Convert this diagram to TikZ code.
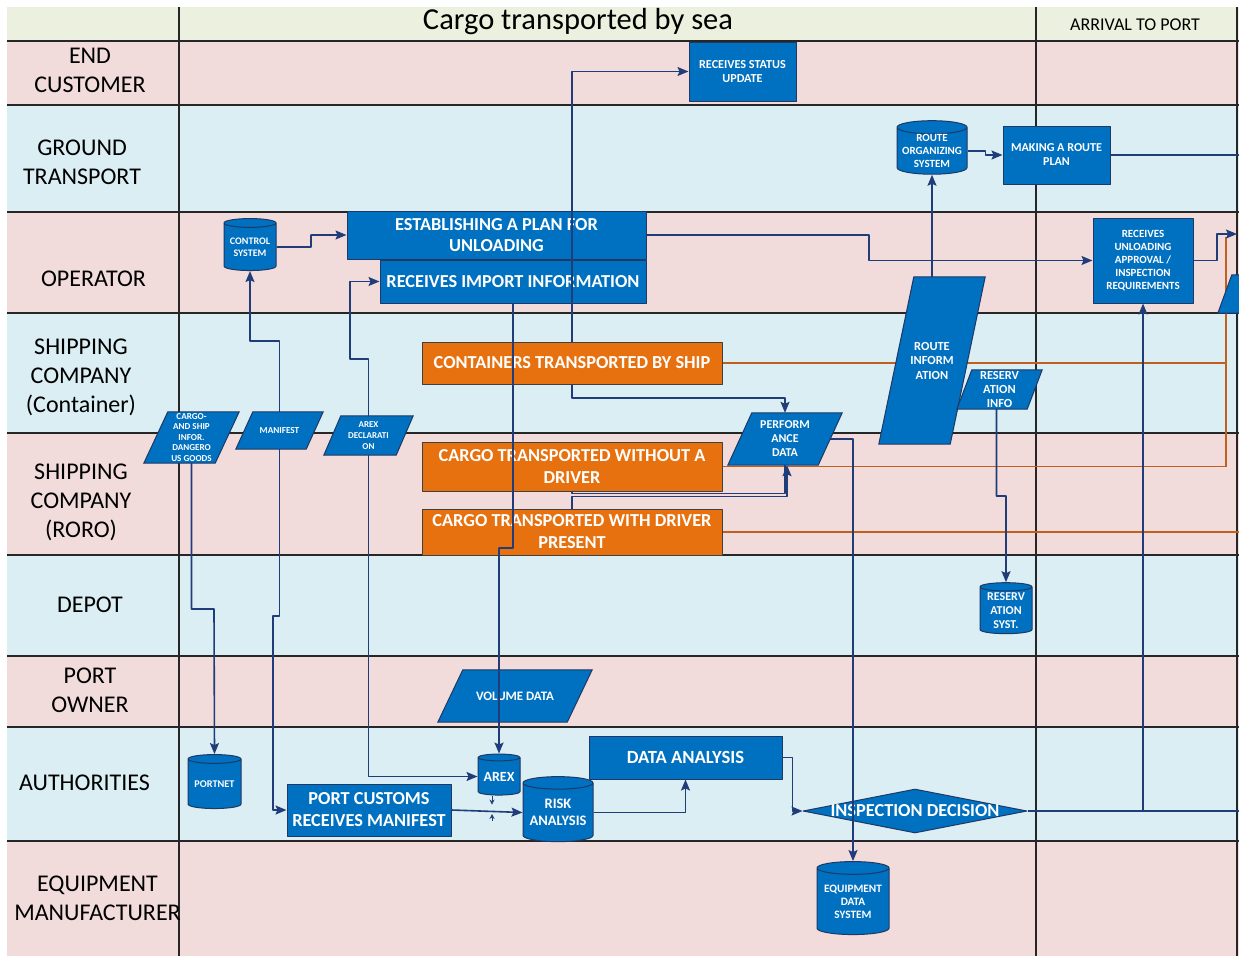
\documentclass[tikz,border=0pt]{standalone}
\usepackage{fontspec}
\setmainfont{Carlito}
\usetikzlibrary{shapes.geometric,arrows.meta}
\definecolor{pinkc}{HTML}{F2DCDB}
\definecolor{bluec}{HTML}{DAEEF3}
\definecolor{greenc}{HTML}{EBF1DE}
\definecolor{boxc}{HTML}{0070C0}
\definecolor{orangec}{HTML}{E8710F}
\definecolor{edgec}{HTML}{1F3864}
\definecolor{flowc}{HTML}{203D7A}
\definecolor{olinec}{HTML}{C0601C}
\newcommand{\fsz}[2]{\fontsize{#1}{#2}\selectfont}
\pgfdeclarelayer{lanes}\pgfdeclarelayer{under}\pgfdeclarelayer{shapes}
\pgfsetlayers{lanes,under,shapes,main}
\begin{document}
\begin{tikzpicture}[x=1pt, y=-1pt, line join=round, >={Stealth[length=11pt,width=9pt,inset=2pt]},
 grid/.style={line width=2.2pt, black!85},
 lane/.style={font=\fsz{24}{29}, align=center},
 box/.style={rectangle, draw=edgec, line width=1pt, fill=boxc, text=white, inner sep=0pt, align=center},
 obox/.style={box, fill=orangec, draw=black!75, font=\fsz{18.3}{22}\bfseries},
 db/.style={cylinder, shape border rotate=90, aspect=0.22, draw=edgec, line width=1pt, fill=boxc, text=white, inner sep=0pt, align=center},
 para/.style={rectangle, inner sep=0pt, text=white, align=center},
 parashape/.style={draw=edgec, line width=1pt, fill=boxc},
 flow/.style={->, flowc, line width=1.6pt},
 link/.style={flowc, line width=1.6pt},
 oline/.style={olinec, line width=1.8pt}]
 \useasboundingbox (0,0) rectangle (1239,956);
 \clip (0,0) rectangle (1239,956);
 \begin{pgfonlayer}{lanes}
 \fill[greenc] (7,7) rectangle (1239,41);
 \foreach \ya/\yb/\col in {41/105/pinkc,105/212/bluec,212/313/pinkc,313/433/bluec,433/555/pinkc,555/656/bluec,656/727/pinkc,727/841/bluec,841/956/pinkc}
  \fill[\col] (7,\ya) rectangle (1239,\yb);
 \foreach \y in {41,105,212,313,433,555,656,727,841}
  \draw[grid] (7,\y) -- (1239,\y);
 \foreach \x in {179,1036,1237}
  \draw[grid] (\x,7) -- (\x,956);
 \end{pgfonlayer}
 \node[font=\fsz{30.5}{34}] (sea) at (578,21.5) {Cargo transported by sea};
 \node[font=\fsz{18}{20}] (arrival) at (1135,24.5) {ARRIVAL TO PORT};
 \node[lane] (lcust) at (90,70) {END\\CUSTOMER};
 \node[lane] (lground) at (82,162.5) {GROUND\\TRANSPORT};
 \node[lane] (loper) at (93.5,279) {OPERATOR};
 \node[lane] (lcont) at (81,377) {SHIPPING\\COMPANY\\(Container)};
 \node[lane] (lroro) at (81,502) {SHIPPING\\COMPANY\\(RORO)};
 \node[lane] (ldepot) at (90,605) {DEPOT};
 \node[lane] (lowner) at (90,690.5) {PORT\\OWNER};
 \node[lane] (lauth) at (84.5,783) {AUTHORITIES};
 \node[lane] (lequip) at (97.5,898) {EQUIPMENT\\MANUFACTURER};
 \node[box, minimum width=107, minimum height=59, font=\fsz{12.2}{14}\bfseries] (status) at (742.5,71.5) {RECEIVES STATUS\\UPDATE};
 \node[db, minimum width=70, minimum height=52, font=\fsz{11}{13}\bfseries] (routeorg) at (932,151) {ROUTE\\ORGANIZING\\SYSTEM};
 \node[box, minimum width=107, minimum height=58, font=\fsz{12.1}{14}\bfseries] (routeplan) at (1056.5,155) {MAKING A ROUTE\\PLAN};
 \node[db, minimum width=52, minimum height=52, font=\fsz{10}{12}\bfseries] (control) at (250,247) {CONTROL\\SYSTEM};
 \node[box, minimum width=299, minimum height=48, font=\fsz{18.3}{21}\bfseries] (plan) at (496.5,235) {ESTABLISHING A PLAN FOR\\UNLOADING};
 \node[box, minimum width=266, minimum height=43, font=\fsz{18.3}{21}\bfseries] (importinfo) at (513,281.5) {RECEIVES IMPORT INFORMATION};
 \node[box, minimum width=100, minimum height=85, font=\fsz{11}{13}\bfseries] (unload) at (1143,260.5) {RECEIVES\\UNLOADING\\APPROVAL /\\INSPECTION\\REQUIREMENTS};
 \node[para, minimum width=70, minimum height=38] (edgepara) at (1260,294) {};
 \node[para, minimum width=71, minimum height=167, font=\fsz{12.4}{14.5}\bfseries] (routeinfo) at (932,360.5) {ROUTE\\INFORM\\ATION};
 \node[para, minimum width=70, minimum height=39, font=\fsz{12.4}{14}\bfseries] (resinfo) at (999.5,389.5) {RESERV\\ATION\\INFO};
 \node[obox, minimum width=300, minimum height=42] (containers) at (572,363) {CONTAINERS TRANSPORTED BY SHIP};
 \node[obox, minimum width=300, minimum height=49] (nodriver) at (572,466.5) {CARGO TRANSPORTED WITHOUT A\\DRIVER};
 \node[obox, minimum width=300, minimum height=46] (driver) at (572,532) {CARGO TRANSPORTED WITH DRIVER\\PRESENT};
 \node[para, minimum width=90, minimum height=52, font=\fsz{12}{14}\bfseries] (perf) at (785,439) {PERFORM\\ANCE\\DATA};
 \node[para, minimum width=71, minimum height=51, font=\fsz{9.1}{10.5}\bfseries] (cargoinfo) at (191.5,437.5) {CARGO-\\AND SHIP\\INFOR.\\DANGERO\\US GOODS};
 \node[para, minimum width=70, minimum height=37, font=\fsz{9.2}{11}\bfseries] (manifest) at (279.5,430.5) {MANIFEST};
 \node[para, minimum width=72, minimum height=39, font=\fsz{9}{11}\bfseries] (arexdecl) at (368.5,435.5) {AREX\\DECLARATI\\ON};
 \node[db, minimum width=52, minimum height=51, font=\fsz{12}{14}\bfseries] (ressyst) at (1006,610.5) {RESERV\\ATION\\SYST.};
 \node[para, minimum width=129, minimum height=52, font=\fsz{12.9}{14}\bfseries] (volume) at (515,696) {VOLUME DATA};
 \node[db, minimum width=53, minimum height=54, font=\fsz{10.3}{12}\bfseries] (portnet) at (214.5,784) {PORTNET};
 \node[db, minimum width=42, minimum height=41, font=\fsz{14}{16}\bfseries] (arex) at (499,776.5) {AREX};
 \node[box, minimum width=164, minimum height=52, font=\fsz{18.3}{22}\bfseries] (customs) at (369,810) {PORT CUSTOMS\\RECEIVES MANIFEST};
 \node[db, minimum width=70, minimum height=65, font=\fsz{14.5}{17}\bfseries] (risk) at (558,812.5) {RISK\\ANALYSIS};
 \node[box, minimum width=193, minimum height=43, font=\fsz{18.6}{20}\bfseries] (analysis) at (685.5,757.5) {DATA ANALYSIS};
 \node[diamond, aspect=5, draw=edgec, line width=1pt, fill=boxc, text=white, inner sep=0pt, minimum width=224, minimum height=44, font=\fsz{18.3}{20}\bfseries] (decision) at (915,811) {\makebox[0pt]{INSPECTION DECISION}};
 \node[db, minimum width=72, minimum height=73, font=\fsz{11.3}{13}\bfseries] (equip) at (853,901.5) {EQUIPMENT\\DATA\\SYSTEM};
 \begin{pgfonlayer}{shapes}
 \foreach \n/\d in {perf/24,cargoinfo/24,manifest/17,arexdecl/17,routeinfo/35,resinfo/15,volume/25,edgepara/14}
  \filldraw[parashape] ([xshift=-\d/2]\n.south west) -- ([xshift=\d/2]\n.north west)
   -- ([xshift=\d/2]\n.north east) -- ([xshift=-\d/2]\n.south east) -- cycle;
 \end{pgfonlayer}
 \coordinate (outplan) at (1245,155);
 \coordinate (outunload) at (1237,234);
 \coordinate (outdecision) at (1245,811);
 \coordinate (outdriver) at (1245,532);
 \coordinate (ojoin) at (1226,237);
 \coordinate (arexfoot) at (492,821);
 \begin{pgfonlayer}{under}
 \draw[oline] (containers.east) -- (containers.east -| ojoin);
 \draw[oline] (nodriver.east) -| (ojoin);
 \draw[oline] (driver.east) -- (outdriver);
 \end{pgfonlayer}
 \draw[flow] (control.east) -- (311,247) |- (plan.west);
 \draw[flow] (manifest.north) |- (250,341) -- (control.south);
 \draw[flow] (arexdecl.north) |- (350,359) |- (importinfo.west);
 \draw[flow] (cargoinfo.south) |- (214,609) -- (portnet.north);
 \draw[flow] (manifest.south) |- (273,616) |- (customs.west);
 \draw[flow] (arexdecl.south) |- (arex.west);
 \draw[flow] (importinfo.south) |- (499,548) -- (arex.north);
 \draw[flow] (containers.north) |- (status.west);
 \draw[flow] (containers.south) |- (785,398) -- (perf.north);
 \draw[link] (nodriver.south) -- ++(0,2) -| (perf.south);
 \draw[flow] (driver.north) -- ++(0,-12) -| ([xshift=2pt]perf.south);
 \draw[flow] (perf.east) -| (equip.north);
 \draw[flow] (plan.east) -- (869,235) |- (unload.west);
 \draw[flow] (routeinfo.north) -- (routeorg.south);
 \draw[flow] (routeorg.east) -- ++(18,0) |- (routeplan.west);
 \draw[link] (routeplan.east) -- (outplan);
 \draw[flow] ([xshift=-3pt]resinfo.south) |- (1006,496) -- (ressyst.north);
 \draw[flow] (unload.east) -- (1217,260.5) |- (outunload);
 \draw[link] (decision.east) -- (outdecision);
 \draw[flow] (decision.east -| unload.south) -- (unload.south);
 \draw[flow] (analysis.east) -- ++(10,0) |- (decision.west);
 \draw[flow] (risk.east) -| (analysis.south);
 \draw[flow] (customs.east) -- (risk.west);
 \draw[flow, line width=1pt, >={Stealth[length=5pt,width=5pt]}] ([xshift=-7pt]arex.south) -- ++(0,9);
 \draw[flow, line width=1pt, >={Stealth[length=5pt,width=5pt]}] (arexfoot) -- ++(0,-7);
\end{tikzpicture}
\end{document}
